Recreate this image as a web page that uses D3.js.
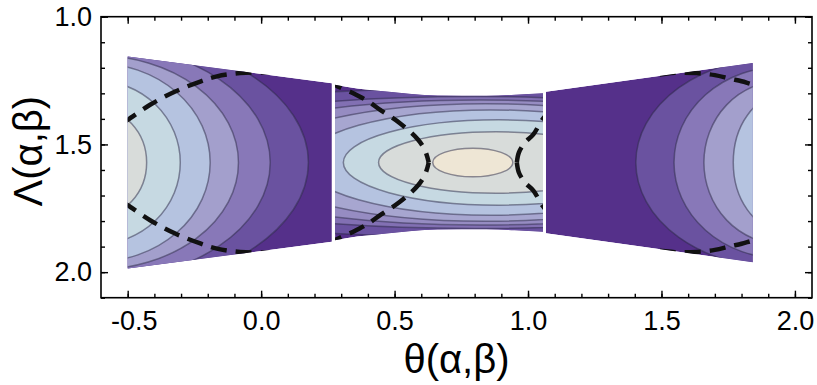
<!DOCTYPE html>
<head>
  <meta charset="utf-8">
  <script src="https://cdn.jsdelivr.net/npm/d3@7/dist/d3.min.js"></script>
  <style>
    body { margin: 0; background: #fff; }
    text { font-family: "Liberation Sans", Arial, sans-serif; }
  </style>
</head>
<body>
  <script>
    // centre line of every piece, Lambda = pi/2
    var symLine = 1.5708;

    // outline of the three pieces: theta and half height
    var leftEdgeTheta  = [-0.5, 0.265];
    var leftEdgeHalf   = [0.415, 0.31];
    var midEdgeTheta   = [0.277, 0.36, 0.47, 0.66, 0.845, 0.95, 1.056];
    var midEdgeHalf    = [0.304, 0.29, 0.278, 0.262, 0.261, 0.265, 0.271];
    var rightEdgeTheta = [1.067, 1.842];
    var rightEdgeHalf  = [0.277, 0.39];

    // contour levels, 0 = darkest
    var levelColors = ["#55308a", "#6a52a0", "#8878b8", "#a39fcc", "#b5c3e0", "#c6d9e2", "#d8dcda", "#eee6d5"];

    var leftLevel  = [1, 2, 3, 4, 5, 6];
    var leftCentre = [-0.62, -0.62, -0.62, -0.62, -0.62, -0.62];
    var leftA      = [0.797, 0.654, 0.535, 0.429, 0.317, 0.191];
    var leftB      = [0.5, 0.462, 0.419, 0.389, 0.321, 0.215];

    var midLevel   = [1, 1.8, 2.5, 3.2, 4, 5, 6, 7];
    var midCentre  = [0.80, 0.80, 0.82, 0.84, 0.86, 0.89, 0.88, 0.793];
    var midA       = [1.8, 1.39, 1.1, 0.861, 0.7, 0.582, 0.44, 0.15];
    var midB       = [0.29, 0.258, 0.245, 0.23, 0.206, 0.167, 0.12, 0.056];

    var rightLevel  = [1, 2, 3, 4];
    var rightCentre = [1.95, 1.95, 1.95, 1.95];
    var rightA      = [0.546, 0.403, 0.291, 0.181];
    var rightB      = [0.413, 0.375, 0.319, 0.262];

    // dashed curves: theta and distance from the centre line
    var dashLeftTheta  = [-0.52, -0.5, -0.416, -0.322, -0.228, -0.166, -0.079, 0.045, 0.15];
    var dashLeftOff    = [0.155, 0.167, 0.226, 0.278, 0.317, 0.337, 0.35, 0.352, 0.345];
    var dashMidLTheta  = [0.25, 0.277, 0.345, 0.40, 0.446, 0.52, 0.589, 0.615, 0.628];
    var dashMidLOff    = [0.325, 0.304, 0.271, 0.24, 0.206, 0.154, 0.088, 0.045, 0];
    var dashMidRTheta  = [0.958, 0.966, 0.99, 1.02, 1.055, 1.09];
    var dashMidROff    = [0, 0.04, 0.08, 0.11, 0.17, 0.21];
    var dashRightTheta = [1.40, 1.476, 1.55, 1.632, 1.70, 1.757, 1.80, 1.842, 1.87];
    var dashRightOff   = [0.35, 0.344, 0.351, 0.35, 0.342, 0.328, 0.318, 0.306, 0.30];

    var xMajor = [-0.5, 0.0, 0.5, 1.0, 1.5, 2.0];
    var yMajor = [1.0, 1.5, 2.0];

    var width = 817, height = 385;
    var plotL = 101, plotR = 812, plotT = 16.7, plotB = 297.7;

    var svg = d3.select("body").append("svg")
      .attr("width", width)
      .attr("height", height);

    var x = d3.scaleLinear().domain([-0.6, 2.064]).range([plotL, plotR]);
    var y = d3.scaleLinear().domain([1.0, 2.1]).range([plotT, plotB]);
    var color = d3.scaleLinear().domain(d3.range(levelColors.length)).range(levelColors);

    var area = d3.area()
      .x(function(d) { return x(d[0]); })
      .y0(function(d) { return y(symLine - d[1]); })
      .y1(function(d) { return y(symLine + d[1]); })
      .curve(d3.curveMonotoneX);

    var line = d3.line()
      .x(function(d) { return x(d[0]); })
      .y(function(d) { return y(d[1]); })
      .curve(d3.curveCatmullRom);

    var defs = svg.append("defs");

    var pieces = [
      {id: "p-left",  t: leftEdgeTheta,  h: leftEdgeHalf,  lev: leftLevel,  c: leftCentre,  a: leftA,  b: leftB,
       dash: [[dashLeftTheta, dashLeftOff]]},
      {id: "p-mid",   t: midEdgeTheta,   h: midEdgeHalf,   lev: midLevel,   c: midCentre,   a: midA,   b: midB,
       dash: [[dashMidLTheta, dashMidLOff], [dashMidRTheta, dashMidROff]]},
      {id: "p-right", t: rightEdgeTheta, h: rightEdgeHalf, lev: rightLevel, c: rightCentre, a: rightA, b: rightB,
       dash: [[dashRightTheta, dashRightOff]]}
    ];

    pieces.forEach(function(p) {
      var outline = p.t.map(function(t, i) { return [t, p.h[i]]; });
      defs.append("clipPath").attr("id", p.id)
        .append("path").attr("d", area(outline));

      var g = svg.append("g").attr("clip-path", "url(#" + p.id + ")");

      g.append("path")
        .attr("d", area(outline))
        .attr("fill", color(0));

      var rings = p.lev.map(function(l, i) { return {lev: l, c: p.c[i], a: p.a[i], b: p.b[i]}; });
      g.selectAll("ellipse").data(rings)
        .enter().append("ellipse")
          .attr("cx", function(d) { return x(d.c); })
          .attr("cy", y(symLine))
          .attr("rx", function(d) { return x(d.c + d.a) - x(d.c); })
          .attr("ry", function(d) { return y(symLine + d.b) - y(symLine); })
          .attr("fill", function(d) { return color(d.lev); })
          .attr("stroke", "#2c2a45")
          .attr("stroke-opacity", 0.5)
          .attr("stroke-width", 1.5);

      // dashed curve, one path for each branch
      p.dash.forEach(function(dc) {
        [-1, 1].forEach(function(s) {
          var pts = dc[0].map(function(t, i) { return [t, symLine + s * dc[1][i]]; });
          g.append("path")
            .attr("d", line(pts))
            .attr("fill", "none")
            .attr("stroke", "#111")
            .attr("stroke-width", 4.5)
            .attr("stroke-dasharray", "16,9");
        });
      });
    });

    // frame
    svg.append("rect")
      .attr("x", plotL).attr("y", plotT)
      .attr("width", plotR - plotL).attr("height", plotB - plotT)
      .attr("fill", "none")
      .attr("stroke", "#000")
      .attr("stroke-width", 1.6);

    var fmt = function(d) { return d.toFixed(1); };
    var minorX = x.ticks(30).filter(function(d) { return d >= -0.55; });
    var minorY = y.ticks(11);

    function ticks(axis, tr, vals, size, labels) {
      var g = svg.append("g")
        .attr("transform", tr)
        .call(axis.tickValues(vals).tickSizeInner(-size).tickSizeOuter(0)
          .tickFormat(labels ? fmt : "").tickPadding(labels ? labels : 0));
      g.select(".domain").remove();
      g.selectAll("line").attr("stroke", "#000").attr("stroke-width", 1.4);
      g.selectAll("text").attr("font-size", 27).attr("fill", "#000");
      return g;
    }

    // bottom and top
    ticks(d3.axisBottom(x), "translate(0," + plotB + ")", minorX, 4);
    var gx = ticks(d3.axisBottom(x), "translate(0," + plotB + ")", xMajor, 7, 13);
    gx.selectAll("text").filter(function(d) { return d < 0; }).attr("dx", 6);
    ticks(d3.axisTop(x), "translate(0," + plotT + ")", minorX, 4);
    ticks(d3.axisTop(x), "translate(0," + plotT + ")", xMajor, 7);

    // left and right
    ticks(d3.axisLeft(y), "translate(" + plotL + ",0)", minorY, 4);
    ticks(d3.axisLeft(y), "translate(" + plotL + ",0)", yMajor, 7, 9);
    ticks(d3.axisRight(y), "translate(" + plotR + ",0)", minorY, 4);
    ticks(d3.axisRight(y), "translate(" + plotR + ",0)", yMajor, 7);

    // axis titles
    svg.append("text")
      .attr("x", (plotL + plotR) / 2)
      .attr("y", 373)
      .attr("text-anchor", "middle")
      .attr("font-size", 40)
      .text("θ(α,β)");

    svg.append("text")
      .attr("transform", "translate(42," + ((plotT + plotB) / 2 - 6) + ") rotate(-90)")
      .attr("text-anchor", "middle")
      .attr("font-size", 40)
      .text("Λ(α,β)");
  </script>
</body>
